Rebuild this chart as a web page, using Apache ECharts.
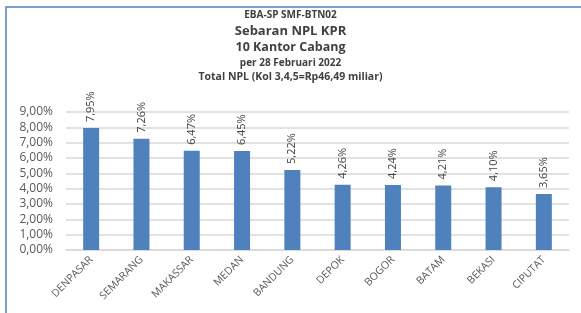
<!DOCTYPE html>
<html>
<head>
<meta charset="utf-8">
<script src="https://cdn.jsdelivr.net/npm/echarts@6/dist/echarts.min.js"></script>
<style>
  html, body { margin: 0; padding: 0; background: #fff; }
  #main { width: 581px; height: 313px; }
</style>
</head>
<body>
<div id="main"></div>
<script>
var cabang = ['DENPASAR', 'SEMARANG', 'MAKASSAR', 'MEDAN', 'BANDUNG', 'DEPOK', 'BOGOR', 'BATAM', 'BEKASI', 'CIPUTAT'];
var npl = [7.95, 7.26, 6.47, 6.45, 5.22, 4.26, 4.24, 4.21, 4.10, 3.65];
var judul = [
    'EBA-SP SMF-BTN02',
    'Sebaran NPL KPR',
    '10 Kantor Cabang',
    'per 28 Februari 2022',
    'Total NPL (Kol 3,4,5=Rp46,49 miliar)'
];

var chartDom = document.getElementById('main');
var myChart = echarts.init(chartDom);
var option;

function persen(v) {
    return v.toFixed(2).replace('.', ',') + '%';
}

var fontUtama = 'Open Sans, Noto Sans, sans-serif';
var ukuranJudul = [10, 13, 12.5, 10, 10.5];
var posJudul = [10, 25, 41, 58, 72];

option = {
    animation: false,
    title: judul.map(function (t, i) {
        return {
            text: t,
            left: 'center',
            top: posJudul[i],
            padding: 0,
            textStyle: {
                fontFamily: fontUtama,
                fontSize: ukuranJudul[i],
                fontWeight: 'bold',
                color: '#404040'
            }
        };
    }),
    graphic: [{
        type: 'rect',
        shape: { x: 6, y: 7, width: 620, height: 400 },
        style: { fill: 'none', stroke: '#4F81BD', lineWidth: 1.5 },
        silent: true
    }],
    grid: {
        left: 66,
        right: 12,
        top: 112,
        bottom: 63
    },
    xAxis: {
        type: 'category',
        data: cabang,
        axisTick: { show: false },
        axisLine: { lineStyle: { color: '#D9D9D9', width: 1.5 } },
        axisLabel: {
            rotate: 45,
            interval: 0,
            fontFamily: fontUtama,
            fontSize: 10.5,
            color: '#595959',
            margin: 8
        }
    },
    yAxis: {
        type: 'value',
        min: 0,
        max: 9,
        interval: 1,
        axisLine: { show: false },
        axisTick: { show: false },
        splitLine: { lineStyle: { color: '#D9D9D9', width: 1.5 } },
        axisLabel: {
            formatter: persen,
            fontFamily: fontUtama,
            fontSize: 12,
            color: '#595959',
            margin: 13
        }
    },
    series: [{
        type: 'bar',
        data: npl,
        barWidth: 16,
        itemStyle: { color: '#4F81BD' },
        label: {
            show: true,
            position: 'top',
            rotate: 90,
            align: 'left',
            verticalAlign: 'middle',
            distance: 6,
            formatter: function (p) { return persen(p.value); },
            fontFamily: fontUtama,
            fontSize: 11,
            color: '#404040'
        }
    }]
};

option && myChart.setOption(option);
</script>
</body>
</html>
